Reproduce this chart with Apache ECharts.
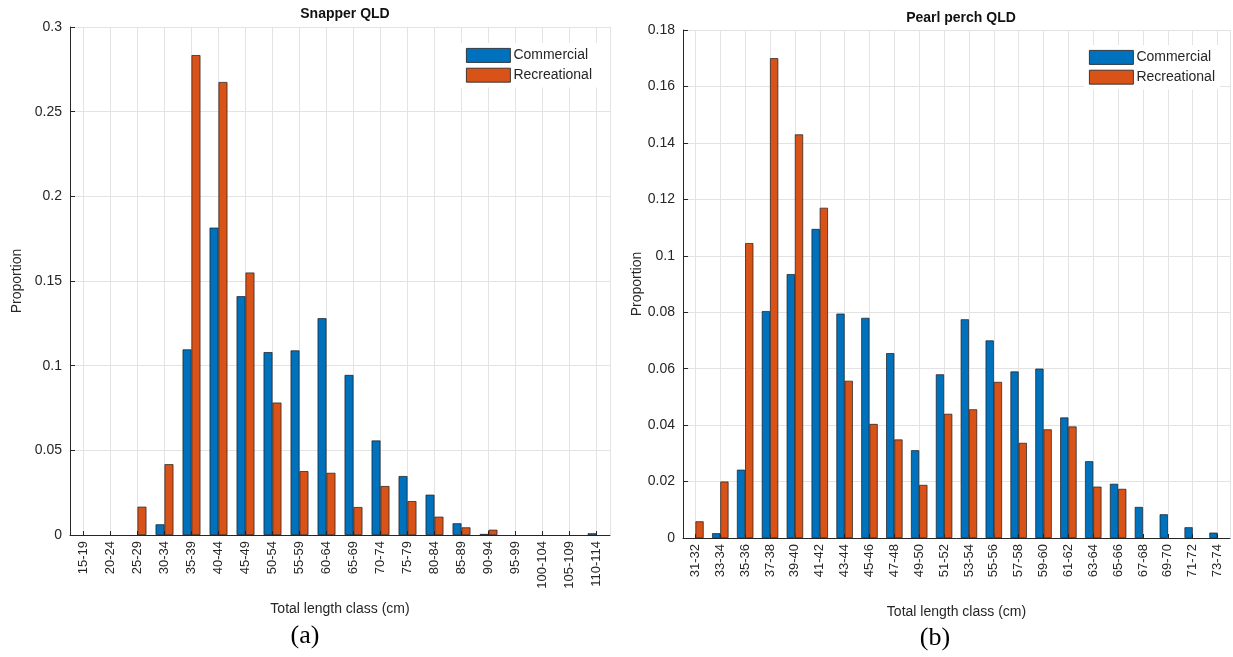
<!DOCTYPE html>
<html>
<head>
<meta charset="utf-8">
<script src="https://cdn.jsdelivr.net/npm/echarts@6/dist/echarts.min.js"></script>
<style>
  html, body { margin: 0; padding: 0; background: #fff; }
  #chart { width: 1233px; height: 657px; }
</style>
</head>
<body>
<div id="chart"></div>
<script>
// snapper (a)
const snapper_classes = ["15-19", "20-24", "25-29", "30-34", "35-39", "40-44", "45-49", "50-54", "55-59", "60-64",
  "65-69", "70-74", "75-79", "80-84", "85-89", "90-94", "95-99", "100-104", "105-109", "110-114"];
const snapper_commercial = [0, 0, 0, 0.0063, 0.1096, 0.1815, 0.141, 0.108, 0.109, 0.128,
  0.0945, 0.0558, 0.0348, 0.0238, 0.0069, 0.0006, 0, 0, 0, 0.001];
const snapper_recreational = [0, 0, 0.0167, 0.0418, 0.2834, 0.2675, 0.155, 0.0782, 0.0377, 0.0367,
  0.0165, 0.0289, 0.020, 0.0108, 0.0045, 0.0031, 0, 0, 0, 0];

// pearl perch (b)
const perch_classes = ["31-32", "33-34", "35-36", "37-38", "39-40", "41-42", "43-44", "45-46", "47-48", "49-50",
  "51-52", "53-54", "55-56", "57-58", "59-60", "61-62", "63-64", "65-66", "67-68", "69-70", "71-72", "73-74"];
const perch_commercial = [0, 0.0017, 0.0242, 0.0804, 0.0935, 0.1095, 0.0795, 0.078, 0.0655, 0.0311,
  0.058, 0.0775, 0.070, 0.059, 0.060, 0.0427, 0.0272, 0.0192, 0.011, 0.0084, 0.0038, 0.0019];
const perch_recreational = [0.0059, 0.020, 0.1045, 0.170, 0.143, 0.117, 0.0557, 0.0404, 0.0349, 0.0188,
  0.044, 0.0456, 0.0553, 0.0337, 0.0385, 0.0395, 0.0182, 0.0174, 0, 0, 0, 0];

const FONT = "Liberation Sans, Arial, sans-serif";
const TXT = "#262626";
const GRID = "#e3e3e3";
const BLUE = "#0072BD";
const ORANGE = "#D95319";

function xAxisFor(gridIndex, classes) {
  return {
    type: "category", gridIndex, data: classes,
    name: "Total length class (cm)", nameLocation: "middle", nameGap: 67,
    nameTextStyle: { fontFamily: FONT, fontSize: 14, color: TXT },
    axisLine: { lineStyle: { color: TXT, width: 1 } },
    axisTick: { show: true, inside: true, length: 4, alignWithLabel: true, lineStyle: { color: TXT } },
    axisLabel: { rotate: 90, fontFamily: FONT, fontSize: 13, color: TXT, margin: 6, interval: 0 },
    splitLine: { show: false }
  };
}

// half-band helper axis, only there so the vertical grid lines sit on the class centres
function centreGridAxis(gridIndex, n) {
  const halves = [];
  for (let i = 0; i < n * 2; i++) halves.push("h" + i);
  return {
    type: "category", gridIndex, data: halves, position: "top",
    axisLine: { show: false }, axisTick: { show: false }, axisLabel: { show: false },
    splitLine: { show: true, interval: (i) => i % 2 === 1, lineStyle: { color: GRID } },
    z: 0
  };
}

function yAxisFor(gridIndex, max, interval, gap) {
  return {
    type: "value", gridIndex, min: 0, max, interval,
    name: "Proportion", nameLocation: "middle", nameGap: gap,
    nameTextStyle: { fontFamily: FONT, fontSize: 14, color: TXT },
    axisLine: { show: true, lineStyle: { color: TXT, width: 1 } },
    axisTick: { show: true, inside: true, length: 5, lineStyle: { color: TXT } },
    axisLabel: { fontFamily: FONT, fontSize: 14, color: TXT, margin: 8 },
    splitLine: { show: true, lineStyle: { color: GRID } }
  };
}

// zero bars are not drawn at all in the original
function barSeries(name, data, idx, color) {
  return {
    name, type: "bar", data: data.map(v => v === 0 ? "-" : v), xAxisIndex: idx, yAxisIndex: idx,
    barWidth: "33%", barGap: "0%",
    itemStyle: { color, borderColor: "#1a1a1a", borderWidth: 0.7 },
    animation: false
  };
}

function legendFor(left, top) {
  return {
    orient: "vertical", left, top,
    data: ["Commercial", "Recreational"],
    icon: "rect", itemWidth: 44, itemHeight: 14, itemGap: 5,
    itemStyle: { borderWidth: 0.8, borderColor: "#1a1a1a" },
    textStyle: { fontFamily: FONT, fontSize: 14, color: TXT, padding: [0, 0, 0, -2] },
    backgroundColor: "#fff"
  };
}

const chart = echarts.init(document.getElementById("chart"), null, { renderer: "canvas" });
chart.setOption({
  animation: false,
  title: [
    { text: "Snapper QLD", left: 340, top: 2, textAlign: "center",
      textStyle: { fontFamily: FONT, fontSize: 14, fontWeight: "bold", color: "#111" } },
    { text: "Pearl perch QLD", left: 956, top: 6, textAlign: "center",
      textStyle: { fontFamily: FONT, fontSize: 14, fontWeight: "bold", color: "#111" } },
    { text: "(a)", left: 300, top: 618, textAlign: "center",
      textStyle: { fontFamily: "Liberation Serif, Times New Roman, serif", fontSize: 26, fontWeight: "normal", color: "#000" } },
    { text: "(b)", left: 930, top: 620, textAlign: "center",
      textStyle: { fontFamily: "Liberation Serif, Times New Roman, serif", fontSize: 26, fontWeight: "normal", color: "#000" } }
  ],
  legend: [legendFor(461, 43), legendFor(1084, 45)],
  grid: [
    { left: 70, right: 623, top: 27, bottom: 122 },
    { left: 683, right: 3, top: 30, bottom: 119 }
  ],
  xAxis: [
    xAxisFor(0, snapper_classes), xAxisFor(1, perch_classes),
    centreGridAxis(0, snapper_classes.length), centreGridAxis(1, perch_classes.length)
  ],
  yAxis: [yAxisFor(0, 0.3, 0.05, 46), yAxisFor(1, 0.18, 0.02, 34)],
  series: [
    barSeries("Commercial", snapper_commercial, 0, BLUE),
    barSeries("Recreational", snapper_recreational, 0, ORANGE),
    barSeries("Commercial", perch_commercial, 1, BLUE),
    barSeries("Recreational", perch_recreational, 1, ORANGE)
  ]
});
</script>
</body>
</html>
